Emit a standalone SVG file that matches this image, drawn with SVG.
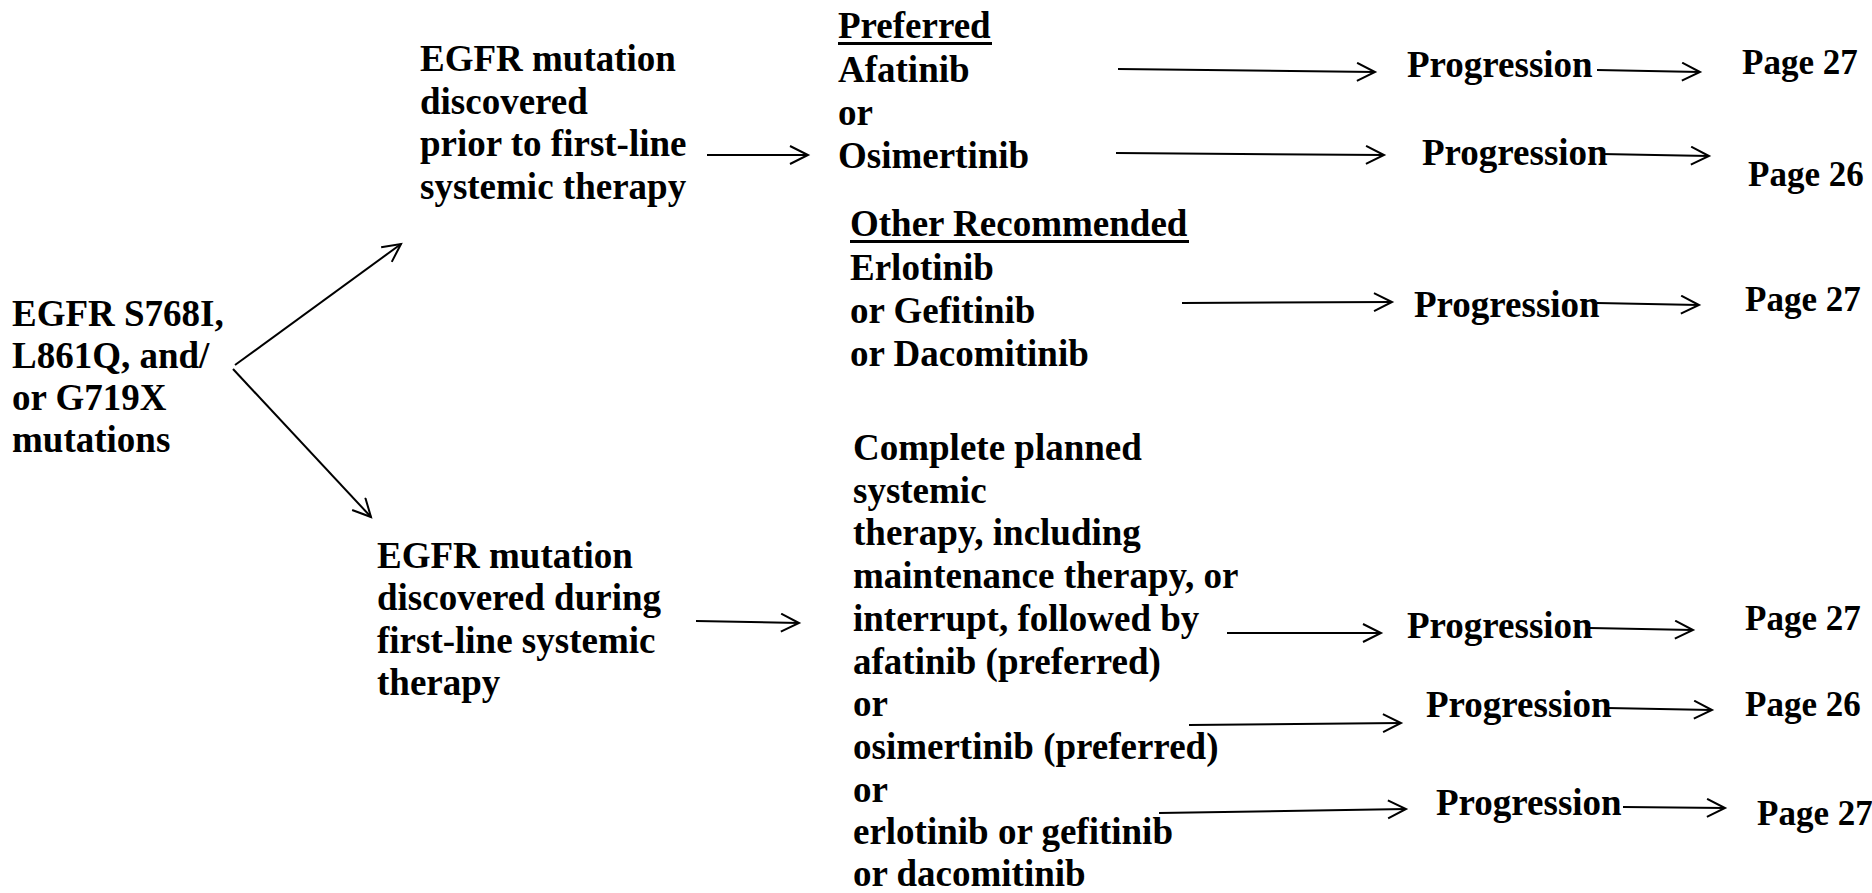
<svg xmlns="http://www.w3.org/2000/svg" width="1872" height="893" viewBox="0 0 1872 893">
  <style>
    text { font-family: "Liberation Serif", "Times New Roman", serif; font-weight: bold; fill: #000; }
    .t { font-size: 37px; }
    .pg { font-size: 35px; }
    .ul { fill: #000; }
    .conn line { stroke: #000; stroke-width: 2; fill: none; marker-end: url(#arr); }
  </style>
  <defs>
    <marker id="arr" markerUnits="userSpaceOnUse" markerWidth="22" markerHeight="22" refX="19" refY="10" orient="auto">
      <path d="M1,1 L19,10 L1,19" fill="none" stroke="#000" stroke-width="2"/>
    </marker>
  </defs>
  <rect width="1872" height="893" fill="#fff"/>

  <!-- root mutation node -->
  <g id="root">
    <text class="t" x="12" y="326">EGFR S768I,</text>
    <text class="t" x="12" y="368">L861Q, and/</text>
    <text class="t" x="12" y="410">or G719X</text>
    <text class="t" x="12" y="452">mutations</text>
  </g>

  <!-- discovered before first-line therapy -->
  <g id="prior">
    <text class="t" x="420" y="71">EGFR mutation</text>
    <text class="t" x="420" y="113.5">discovered</text>
    <text class="t" x="420" y="156">prior to first-line</text>
    <text class="t" x="420" y="198.5">systemic therapy</text>
  </g>

  <!-- discovered during first-line therapy -->
  <g id="during">
    <text class="t" x="377" y="568">EGFR mutation</text>
    <text class="t" x="377" y="610">discovered during</text>
    <text class="t" x="377" y="653">first-line systemic</text>
    <text class="t" x="377" y="695">therapy</text>
  </g>

  <!-- preferred options -->
  <g id="preferred">
    <text class="t" x="838" y="38">Preferred</text>
    <rect class="ul" x="838" y="42" width="154" height="3"/>
    <text class="t" x="838" y="82">Afatinib</text>
    <text class="t" x="838" y="125">or</text>
    <text class="t" x="838" y="168">Osimertinib</text>
  </g>

  <!-- other recommended options -->
  <g id="other">
    <text class="t" x="850" y="236">Other Recommended</text>
    <rect class="ul" x="850" y="240" width="339" height="3"/>
    <text class="t" x="850" y="280">Erlotinib</text>
    <text class="t" x="850" y="323">or Gefitinib</text>
    <text class="t" x="850" y="366">or Dacomitinib</text>
  </g>

  <!-- options after first-line therapy -->
  <g id="complete">
    <text class="t" x="853" y="460">Complete planned</text>
    <text class="t" x="853" y="502.7">systemic</text>
    <text class="t" x="853" y="545.4">therapy, including</text>
    <text class="t" x="853" y="588.1">maintenance therapy, or</text>
    <text class="t" x="853" y="630.8">interrupt, followed by</text>
    <text class="t" x="853" y="673.5">afatinib (preferred)</text>
    <text class="t" x="853" y="716.2">or</text>
    <text class="t" x="853" y="758.9">osimertinib (preferred)</text>
    <text class="t" x="853" y="801.6">or</text>
    <text class="t" x="853" y="844.3">erlotinib or gefitinib</text>
    <text class="t" x="853" y="886">or dacomitinib</text>
  </g>

  <!-- progression nodes -->
  <g id="prog1"><text class="t" x="1407" y="77">Progression</text></g>
  <g id="prog2"><text class="t" x="1422" y="165">Progression</text></g>
  <g id="prog3"><text class="t" x="1414" y="317">Progression</text></g>
  <g id="prog4"><text class="t" x="1407" y="638">Progression</text></g>
  <g id="prog5"><text class="t" x="1426" y="717">Progression</text></g>
  <g id="prog6"><text class="t" x="1436" y="815">Progression</text></g>

  <!-- page references -->
  <g id="page1"><text class="pg" x="1742" y="74">Page 27</text></g>
  <g id="page2"><text class="pg" x="1748" y="186">Page 26</text></g>
  <g id="page3"><text class="pg" x="1745" y="311">Page 27</text></g>
  <g id="page4"><text class="pg" x="1745" y="630">Page 27</text></g>
  <g id="page5"><text class="pg" x="1745" y="716">Page 26</text></g>
  <g id="page6"><text class="pg" x="1757" y="825">Page 27</text></g>

  <!-- connectors -->
  <g id="connectors" class="conn">
    <line x1="235" y1="365" x2="401" y2="244"/>
    <line x1="233" y1="369" x2="371" y2="517"/>
    <line x1="707" y1="155" x2="808" y2="155"/>
    <line x1="696" y1="621" x2="799" y2="623"/>

    <line x1="1118" y1="69" x2="1375" y2="72"/>
    <line x1="1597" y1="70" x2="1700" y2="72"/>
    <line x1="1116" y1="153" x2="1384" y2="155"/>
    <line x1="1601" y1="154" x2="1709" y2="156"/>
    <line x1="1182" y1="303" x2="1392" y2="302"/>
    <line x1="1597" y1="303" x2="1699" y2="305"/>

    <line x1="1227" y1="633" x2="1381" y2="633"/>
    <line x1="1590" y1="628" x2="1693" y2="630"/>
    <line x1="1189" y1="725" x2="1401" y2="723"/>
    <line x1="1607" y1="708" x2="1712" y2="710"/>
    <line x1="1159" y1="813" x2="1406" y2="809"/>
    <line x1="1623" y1="807" x2="1725" y2="808"/>
  </g>
</svg>
